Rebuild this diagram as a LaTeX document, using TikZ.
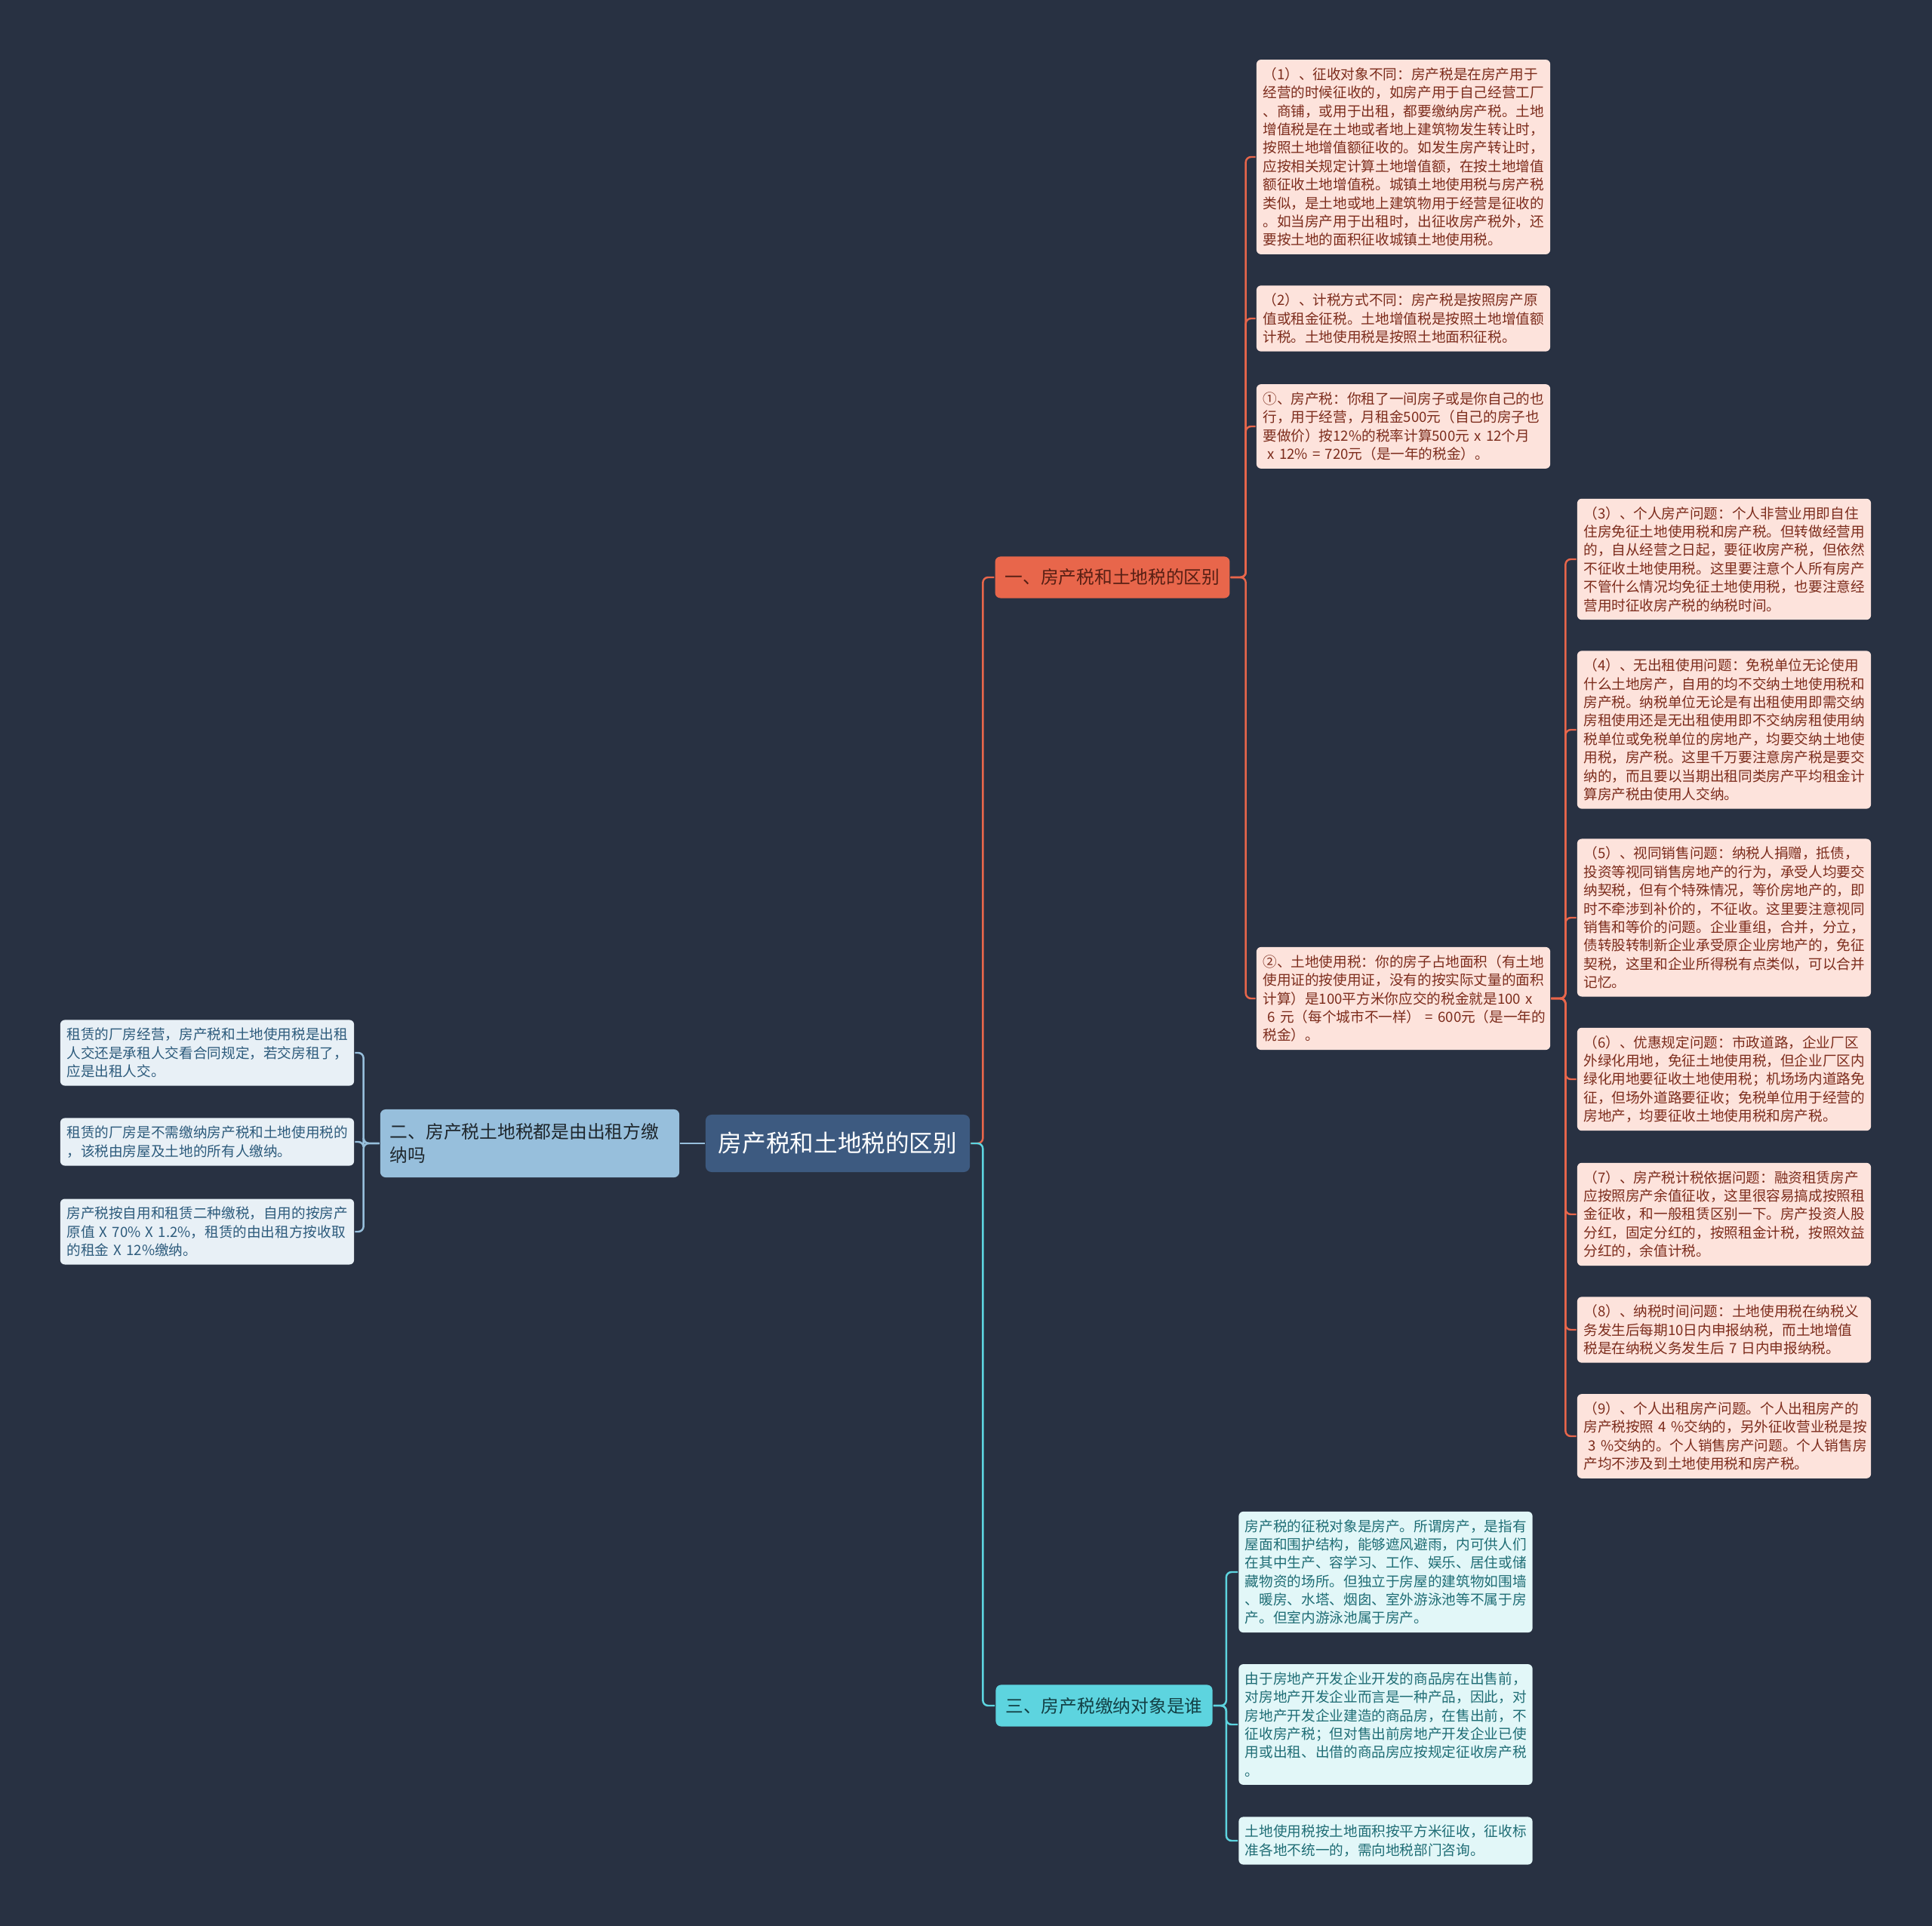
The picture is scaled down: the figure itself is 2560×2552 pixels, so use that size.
\documentclass[tikz,border=0pt]{standalone}
\usepackage{fontspec}
\setmainfont{Noto Sans CJK SC}
\usepackage{xcolor}
\usepackage{tikz}
\usetikzlibrary{positioning}
\definecolor{bg_col}{HTML}{283142}
\definecolor{root_col}{HTML}{3D5A80}
\definecolor{one_col}{HTML}{E8664B}
\definecolor{two_col}{HTML}{97BFDC}
\definecolor{three_col}{HTML}{5DD4DF}
\definecolor{one_leaf_col}{HTML}{FDE3DC}
\definecolor{one_text_col}{HTML}{7C2C1C}
\definecolor{two_leaf_col}{HTML}{E8F0F6}
\definecolor{two_text_col}{HTML}{2D5B7C}
\definecolor{three_leaf_col}{HTML}{E2F7F8}
\definecolor{three_text_col}{HTML}{1F6D75}
\tikzset{my_map/.style={x=0.01cm,y=-0.01cm,line width=0.7pt}}
\tikzset{my_root/.style={fill=root_col, text=white, rounded corners=0.08cm, minimum width=3.5cm, minimum height=0.76cm, inner sep=0pt, font=\fontsize{9pt}{11pt}\selectfont}}
\tikzset{my_branch/.style={rounded corners=0.07cm, minimum height=0.55cm, inner xsep=0.13cm, inner ysep=0pt, font=\fontsize{6.75pt}{9pt}\selectfont}}
\tikzset{my_leaf/.style={rounded corners=0.06cm, text width=3.72cm, align=left, inner xsep=0.085cm, inner ysep=0.105cm, font=\fontsize{5.3pt}{6.93pt}\selectfont}}
\tikzset{my_one_leaf/.style={my_leaf, fill=one_leaf_col, text=one_text_col}}
\tikzset{my_two_leaf/.style={my_leaf, fill=two_leaf_col, text=two_text_col}}
\tikzset{my_three_leaf/.style={my_leaf, fill=three_leaf_col, text=three_text_col}}
\tikzset{my_elbow/.style={rounded corners=0.07cm, to path={-- ++(#1,0) |- (\tikztotarget)}}}

\begin{document}
\begin{tikzpicture}[my_map]
    \fill[bg_col] (0,0) rectangle (2560,2552);
    \useasboundingbox (0,0) rectangle (2560,2552);
    %\draw[help lines] (0,0) grid[step=100] (2560,2552);
    \node[my_root] (root) at (1110,1515) {房产税和土地税的区别};
    \node[my_branch, fill=one_col, text=one_text_col!70!black] (one) at (1474,765) {一、房产税和土地税的区别};
    \node[my_branch, fill=two_col, text=black!80!two_col, text width=3.7cm, align=left, minimum height=0.9cm] (two) at (702,1515) {二、房产税土地税都是由出租方缴\\纳吗};
    \node[my_branch, fill=three_col, text=three_text_col!60!black] (three) at (1463,2260) {三、房产税缴纳对象是谁};

    % 一
    \node[my_one_leaf] (c1) at (1859.5,208) {（1）、征收对象不同：房产税是在房产用于\\经营的时候征收的，如房产用于自己经营工厂\\、商铺，或用于出租，都要缴纳房产税。土地\\增值税是在土地或者地上建筑物发生转让时，\\按照土地增值额征收的。如发生房产转让时，\\应按相关规定计算土地增值额，在按土地增值\\额征收土地增值税。城镇土地使用税与房产税\\类似，是土地或地上建筑物用于经营是征收的\\。如当房产用于出租时，出征收房产税外，还\\要按土地的面积征收城镇土地使用税。};
    \node[my_one_leaf] (c2) at (1859.5,422) {（2）、计税方式不同：房产税是按照房产原\\值或租金征税。土地增值税是按照土地增值额\\计税。土地使用税是按照土地面积征税。};
    \node[my_one_leaf] (ca) at (1859.5,565) {①、房产税：你租了一间房子或是你自己的也\\行，用于经营，月租金500元（自己的房子也\\要做价）按12\%的税率计算500元~x~12个月\\~x~12\%~=~720元（是一年的税金）。};
    \node[my_one_leaf] (cb) at (1859.5,1323) {②、土地使用税：你的房子占地面积（有土地\\使用证的按使用证，没有的按实际丈量的面积\\计算）是100平方米你应交的税金就是100~x\\~6~元（每个城市不一样）~=~600元（是一年的\\税金）。};
    \node[my_one_leaf] (c3) at (2284.5,741) {（3）、个人房产问题：个人非营业用即自住\\住房免征土地使用税和房产税。但转做经营用\\的，自从经营之日起，要征收房产税，但依然\\不征收土地使用税。这里要注意个人所有房产\\不管什么情况均免征土地使用税，也要注意经\\营用时征收房产税的纳税时间。};
    \node[my_one_leaf] (c4) at (2284.5,967) {（4）、无出租使用问题：免税单位无论使用\\什么土地房产，自用的均不交纳土地使用税和\\房产税。纳税单位无论是有出租使用即需交纳\\房租使用还是无出租使用即不交纳房租使用纳\\税单位或免税单位的房地产，均要交纳土地使\\用税，房产税。这里千万要注意房产税是要交\\纳的，而且要以当期出租同类房产平均租金计\\算房产税由使用人交纳。};
    \node[my_one_leaf] (c5) at (2284.5,1216) {（5）、视同销售问题：纳税人捐赠，抵债，\\投资等视同销售房地产的行为，承受人均要交\\纳契税，但有个特殊情况，等价房地产的，即\\时不牵涉到补价的，不征收。这里要注意视同\\销售和等价的问题。企业重组，合并，分立，\\债转股转制新企业承受原企业房地产的，免征\\契税，这里和企业所得税有点类似，可以合并\\记忆。};
    \node[my_one_leaf] (c6) at (2284.5,1430) {（6）、优惠规定问题：市政道路，企业厂区\\外绿化用地，免征土地使用税，但企业厂区内\\绿化用地要征收土地使用税；机场场内道路免\\征，但场外道路要征收；免税单位用于经营的\\房地产，均要征收土地使用税和房产税。};
    \node[my_one_leaf] (c7) at (2284.5,1609) {（7）、房产税计税依据问题：融资租赁房产\\应按照房产余值征收，这里很容易搞成按照租\\金征收，和一般租赁区别一下。房产投资人股\\分红，固定分红的，按照租金计税，按照效益\\分红的，余值计税。};
    \node[my_one_leaf] (c8) at (2284.5,1762) {（8）、纳税时间问题：土地使用税在纳税义\\务发生后每期10日内申报纳税，而土地增值\\税是在纳税义务发生后~7~日内申报纳税。};
    \node[my_one_leaf] (c9) at (2284.5,1903) {（9）、个人出租房产问题。个人出租房产的\\房产税按照~4~\%交纳的，另外征收营业税是按\\~3~\%交纳的。个人销售房产问题。个人销售房\\产均不涉及到土地使用税和房产税。};

    % 二
    \node[my_two_leaf] (t1) at (274.5,1395) {租赁的厂房经营，房产税和土地使用税是出租\\人交还是承租人交看合同规定，若交房租了，\\应是出租人交。};
    \node[my_two_leaf] (t2) at (274.5,1513) {租赁的厂房是不需缴纳房产税和土地使用税的\\，该税由房屋及土地的所有人缴纳。};
    \node[my_two_leaf] (t3) at (274.5,1632) {房产税按自用和租赁二种缴税，自用的按房产\\原值~X~70\%~X~1.2\%，租赁的由出租方按收取\\的租金~X~12\%缴纳。};

    % 三
    \node[my_three_leaf] (s1) at (1836,2083) {房产税的征税对象是房产。所谓房产，是指有\\屋面和围护结构，能够遮风避雨，内可供人们\\在其中生产、容学习、工作、娱乐、居住或储\\藏物资的场所。但独立于房屋的建筑物如围墙\\、暖房、水塔、烟囱、室外游泳池等不属于房\\产。但室内游泳池属于房产。};
    \node[my_three_leaf] (s2) at (1836,2285) {由于房地产开发企业开发的商品房在出售前，\\对房地产开发企业而言是一种产品，因此，对\\房地产开发企业建造的商品房，在售出前，不\\征收房产税；但对售出前房地产开发企业已使\\用或出租、出借的商品房应按规定征收房产税\\。};
    \node[my_three_leaf] (s3) at (1836,2439) {土地使用税按土地面积按平方米征收，征收标\\准各地不统一的，需向地税部门咨询。};

    \path
        (root.east) edge [draw=one_col, my_elbow=16] (one.west)
        (root.east) edge [draw=three_col, my_elbow=16] (three.west)
        (root.west) edge [draw=two_col] (two.east)
    ;
    \path
        (one.east) edge [draw=one_col, my_elbow=20] (c1.west)
        (one.east) edge [draw=one_col, my_elbow=20] (c2.west)
        (one.east) edge [draw=one_col, my_elbow=20] (ca.west)
        (one.east) edge [draw=one_col, my_elbow=20] (cb.west)
        (cb.east) edge [draw=one_col, my_elbow=19] (c3.west)
        (cb.east) edge [draw=one_col, my_elbow=19] (c4.west)
        (cb.east) edge [draw=one_col, my_elbow=19] (c5.west)
        (cb.east) edge [draw=one_col, my_elbow=19] (c6.west)
        (cb.east) edge [draw=one_col, my_elbow=19] (c7.west)
        (cb.east) edge [draw=one_col, my_elbow=19] (c8.west)
        (cb.east) edge [draw=one_col, my_elbow=19] (c9.west)
    ;
    \path
        (two.west) edge [draw=two_col, my_elbow=-21] (t1.east)
        (two.west) edge [draw=two_col, my_elbow=-21] (t2.east)
        (two.west) edge [draw=two_col, my_elbow=-21] (t3.east)
        (three.east) edge [draw=three_col, my_elbow=17] (s1.west)
        (three.east) edge [draw=three_col, my_elbow=17] (s2.west)
        (three.east) edge [draw=three_col, my_elbow=17] (s3.west)
    ;
\end{tikzpicture}
\end{document}
